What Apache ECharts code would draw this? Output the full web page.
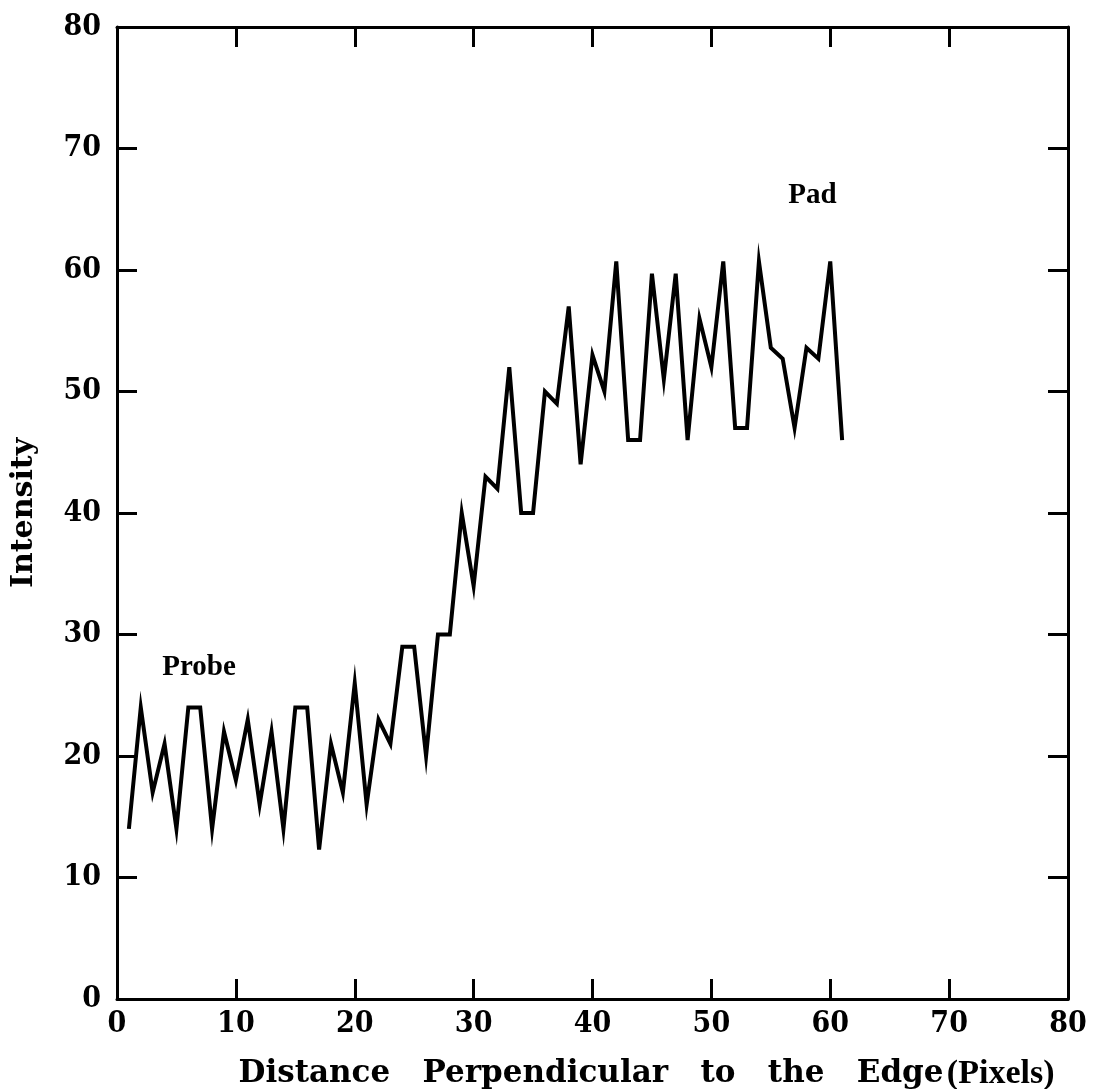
<!DOCTYPE html>
<html>
<head>
<meta charset="utf-8">
<script src="https://cdn.jsdelivr.net/npm/echarts@6/dist/echarts.min.js"></script>
<style>
  html, body { margin: 0; padding: 0; background: #fff; }
  #chart { width: 1096px; height: 1089px; }
</style>
</head>
<body>
<div id="chart"></div>
<script>
// distance across the edge (pixels)
const distance = [
  1, 2, 3, 4, 5, 6, 7, 8, 9, 10,
  11, 12, 13, 14, 15, 16, 17, 18, 19, 20,
  21, 22, 23, 24, 25, 26, 27, 28, 29, 30,
  31, 32, 33, 34, 35, 36, 37, 38, 39, 40,
  41, 42, 43, 44, 45, 46, 47, 48, 49, 50,
  51, 52, 53, 54, 55, 56, 57, 58, 59, 60, 61
];

// intensity
const intensity = [
  14, 24, 17, 21, 14, 24, 24, 14, 22, 18,
  23, 16, 22, 14, 24, 24, 12.3, 21, 17, 26,
  16, 23, 21, 29, 29, 20, 30, 30, 40, 34,
  43, 42, 52, 40, 40, 50, 49, 57, 44, 53,
  50, 60.7, 46, 46, 59.7, 51, 59.7, 46, 56, 52,
  60.7, 47, 47, 60.7, 53.6, 52.7, 47, 53.6, 52.7, 60.7, 46
];

const tickValues = [0, 10, 20, 30, 40, 50, 60, 70, 80];

const notes = [
  { text: 'Probe', x: 6.9, y: 27.3 },
  { text: 'Pad', x: 58.5, y: 66.1 }
];

const chart = echarts.init(document.getElementById('chart'));

const labelFont = 'DejaVu Serif';
const tickFont = '"DejaVu Serif Condensed", "DejaVu Serif"';
const axisLine = { show: true, onZero: false, lineStyle: { color: '#000', width: 3 } };
const ticks = { show: true, inside: true, length: 20, lineStyle: { color: '#000', width: 3 } };

const valueAxis = (extra) => Object.assign({
  type: 'value',
  min: tickValues[0],
  max: tickValues[tickValues.length - 1],
  interval: 10,
  axisLine: axisLine,
  axisTick: ticks,
  splitLine: { show: false }
}, extra);

const option = {
  backgroundColor: '#fff',
  animation: false,
  grid: { left: 117, right: 28, top: 27, bottom: 90, outerBoundsMode: 'none', containLabel: false },
  xAxis: [
    valueAxis({
      position: 'bottom',
      axisLabel: { margin: 10, fontFamily: tickFont, fontWeight: 'bold', fontSize: 30, color: '#000' },
      name: '{a|Distance   Perpendicular   to   the   Edge} {b|(Pixels)}',
      nameLocation: 'middle',
      nameGap: 58,
      nameTextStyle: {
        padding: [0, 0, 0, 108],
        rich: {
          a: { fontFamily: labelFont, fontWeight: 'bold', fontSize: 31, color: '#000' },
          b: { fontFamily: 'Liberation Serif', fontWeight: 'bold', fontSize: 34, color: '#000' }
        }
      }
    }),
    valueAxis({ position: 'top', axisLabel: { show: false } })
  ],
  yAxis: [
    valueAxis({
      position: 'left',
      axisLabel: { margin: 16, fontFamily: tickFont, fontWeight: 'bold', fontSize: 30, color: '#000' },
      name: 'Intensity',
      nameLocation: 'middle',
      nameGap: 78,
      nameTextStyle: { fontFamily: labelFont, fontWeight: 'bold', fontSize: 30, color: '#000' }
    }),
    valueAxis({ position: 'right', axisLabel: { show: false } })
  ],
  series: [{
    type: 'line',
    data: distance.map((d, i) => [d, intensity[i]]),
    symbol: 'none',
    lineStyle: { color: '#000', width: 4, join: 'miter', miterLimit: 10 },
    markPoint: {
      symbol: 'circle',
      symbolSize: 1,
      itemStyle: { color: 'rgba(0,0,0,0)' },
      label: {
        show: true,
        position: 'inside',
        fontFamily: 'Liberation Serif',
        fontWeight: 'bold',
        fontSize: 29,
        color: '#000',
        formatter: (p) => p.name
      },
      data: notes.map((n) => ({ name: n.text, coord: [n.x, n.y] }))
    }
  }]
};

chart.setOption(option);
</script>
</body>
</html>
